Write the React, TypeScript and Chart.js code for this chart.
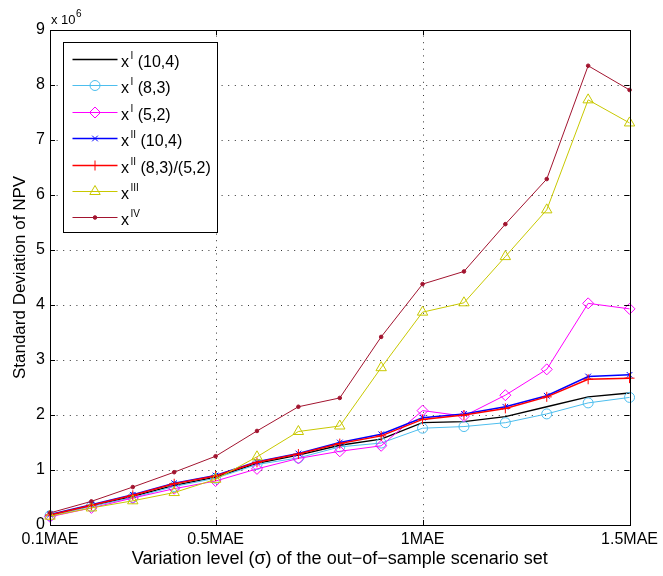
import React, { useEffect, useRef } from 'react';
import { Chart, registerables } from 'chart.js';
import { drawPoint } from 'chart.js/helpers';

Chart.register(...registerables);

// ---------- data (values in units of 10^6) ----------
const xValues = [0.1, 0.2, 0.3, 0.4, 0.5, 0.6, 0.7, 0.8, 0.9, 1.0, 1.1, 1.2, 1.3, 1.4, 1.5];
const xTickValues = [0.1, 0.5, 1.0, 1.5];
const xTickLabels = ['0.1MAE', '0.5MAE', '1MAE', '1.5MAE'];
const yTickValues = [0, 1, 2, 3, 4, 5, 6, 7, 8, 9];

const xI_10_4 = [0.18, 0.35, 0.52, 0.72, 0.87, 1.12, 1.27, 1.45, 1.56, 1.86, 1.88, 1.97, 2.15, 2.33, 2.40];
const xI_8_3 = [0.17, 0.34, 0.50, 0.70, 0.85, 1.10, 1.22, 1.42, 1.49, 1.76, 1.79, 1.86, 2.02, 2.22, 2.32];
const xI_5_2 = [0.15, 0.31, 0.49, 0.66, 0.80, 1.02, 1.21, 1.34, 1.44, 2.08, 1.98, 2.36, 2.83, 4.03, 3.93];
const xII_10_4 = [0.19, 0.37, 0.55, 0.76, 0.90, 1.15, 1.30, 1.50, 1.65, 1.95, 2.02, 2.15, 2.35, 2.70, 2.73];
const xII_8_3_5_2 = [0.18, 0.36, 0.54, 0.75, 0.89, 1.14, 1.29, 1.48, 1.62, 1.92, 2.00, 2.12, 2.33, 2.65, 2.67];
const xIII = [0.16, 0.31, 0.44, 0.59, 0.83, 1.24, 1.70, 1.80, 2.86, 3.87, 4.04, 4.88, 5.73, 7.73, 7.31];
const xIV = [0.22, 0.43, 0.69, 0.96, 1.25, 1.71, 2.15, 2.31, 3.42, 4.38, 4.61, 5.47, 6.29, 8.35, 7.91];

const legendBase = ['x', 'x', 'x', 'x', 'x', 'x', 'x'];
const legendSup = ['I', 'I', 'I', 'II', 'II', 'III', 'IV'];
const legendSuffix = [' (10,4)', ' (8,3)', ' (5,2)', ' (10,4)', ' (8,3)/(5,2)', '', ''];

const yTitle = 'Standard Deviation of NPV';
const xTitle = 'Variation level (\u03c3) of the out\u2212of\u2212sample scenario set';

const FONT = '"Liberation Sans", Arial, Helvetica, sans-serif';

const seriesStyles = [
  { data: xI_10_4, color: '#000000', pointStyle: false as any, radius: 0, width: 1.3, fill: false },
  { data: xI_8_3, color: '#4DBEEE', pointStyle: 'circle', radius: 5, width: 1, fill: false },
  { data: xI_5_2, color: '#FF00FF', pointStyle: 'rectRot', radius: 5.5, width: 1, fill: false },
  { data: xII_10_4, color: '#0000FF', pointStyle: 'crossRot', radius: 4, width: 1.5, fill: false },
  { data: xII_8_3_5_2, color: '#FF0000', pointStyle: 'cross', radius: 5, width: 1.5, fill: false },
  { data: xIII, color: '#C8C800', pointStyle: 'triangle', radius: 6, width: 1, fill: false },
  { data: xIV, color: '#A2142F', pointStyle: 'circle', radius: 1.8, width: 1, fill: true },
];

const gridPlugin = {
  id: 'matlabGrid',
  beforeDatasetsDraw(chart: any) {
    const { ctx, chartArea: a, scales } = chart;
    ctx.save();
    ctx.strokeStyle = '#333';
    ctx.lineWidth = 1;
    ctx.setLineDash([1, 5.6]);
    ctx.beginPath();
    xTickValues.forEach((v) => {
      const px = Math.round(scales.x.getPixelForValue(v)) + 0.5;
      ctx.moveTo(px, a.bottom);
      ctx.lineTo(px, a.top);
    });
    yTickValues.forEach((v) => {
      const py = Math.round(scales.y.getPixelForValue(v)) + 0.5;
      ctx.moveTo(a.left, py);
      ctx.lineTo(a.right, py);
    });
    ctx.stroke();
    ctx.restore();
  },
};

const framePlugin = {
  id: 'matlabFrame',
  afterDatasetsDraw(chart: any) {
    const { ctx, chartArea: a, scales } = chart;
    ctx.save();
    ctx.strokeStyle = '#000';
    ctx.lineWidth = 1;
    ctx.setLineDash([]);
    ctx.strokeRect(Math.round(a.left) + 0.5, Math.round(a.top) + 0.5, Math.round(a.right - a.left), Math.round(a.bottom - a.top));
    const tl = 5;
    ctx.beginPath();
    xTickValues.forEach((v) => {
      const px = Math.round(scales.x.getPixelForValue(v)) + 0.5;
      ctx.moveTo(px, a.bottom);
      ctx.lineTo(px, a.bottom - tl);
      ctx.moveTo(px, a.top);
      ctx.lineTo(px, a.top + tl);
    });
    yTickValues.forEach((v) => {
      const py = Math.round(scales.y.getPixelForValue(v)) + 0.5;
      ctx.moveTo(a.left, py);
      ctx.lineTo(a.left + tl, py);
      ctx.moveTo(a.right, py);
      ctx.lineTo(a.right - tl, py);
    });
    ctx.stroke();
    ctx.restore();
  },
};

const overlayPlugin = {
  id: 'matlabOverlay',
  afterDraw(chart: any) {
    const { ctx, chartArea: a } = chart;
    ctx.save();
    // exponent label
    ctx.fillStyle = '#000';
    ctx.textBaseline = 'alphabetic';
    ctx.textAlign = 'left';
    ctx.font = `13px ${FONT}`;
    const ex = a.left + 1;
    const eb = a.top - 6;
    ctx.fillText('x 10', ex, eb);
    const w10 = ctx.measureText('x 10').width;
    ctx.font = `10px ${FONT}`;
    ctx.fillText('6', ex + w10 + 0.5, eb - 7);

    // legend
    const x0 = Math.round(a.left + 12.5);
    const y0 = Math.round(a.top + 11.5);
    const rowH = 26.4;
    const firstRow = 17;
    const lineA = 9.5, lineB = 54.5, markX = 32, textX = 58;
    const mainFont = `16px ${FONT}`;
    const supFont = `10px ${FONT}`;
    const n = chart.data.datasets.length;
    let maxW = 0;
    for (let i = 0; i < n; i++) {
      ctx.font = mainFont;
      let w = ctx.measureText(legendBase[i]).width + 1.5;
      ctx.font = supFont;
      w += ctx.measureText(legendSup[i]).width;
      ctx.font = mainFont;
      w += ctx.measureText(legendSuffix[i]).width;
      maxW = Math.max(maxW, w);
    }
    const boxW = Math.round(textX + maxW + 6);
    const boxH = Math.round(firstRow + rowH * (n - 1) + 14.7);
    ctx.fillStyle = '#fff';
    ctx.fillRect(x0, y0, boxW, boxH);
    ctx.strokeStyle = '#000';
    ctx.lineWidth = 1;
    ctx.strokeRect(x0 + 0.5, y0 + 0.5, boxW, boxH);

    for (let i = 0; i < n; i++) {
      const ds = chart.data.datasets[i];
      const cy = Math.round(y0 + firstRow + rowH * i) + 0.5;
      ctx.strokeStyle = ds.borderColor;
      ctx.lineWidth = ds.borderWidth;
      ctx.beginPath();
      ctx.moveTo(x0 + lineA, cy);
      ctx.lineTo(x0 + lineB, cy);
      ctx.stroke();
      if (ds.pointStyle) {
        ctx.fillStyle = ds.pointBackgroundColor;
        ctx.strokeStyle = ds.pointBorderColor;
        ctx.lineWidth = ds.pointBorderWidth;
        drawPoint(ctx, { pointStyle: ds.pointStyle, rotation: 0, radius: ds.pointRadius, borderWidth: ds.pointBorderWidth } as any, x0 + markX, cy);
      }
      ctx.fillStyle = '#000';
      ctx.textBaseline = 'alphabetic';
      const base = cy + 7;
      let tx = x0 + textX;
      ctx.font = mainFont;
      ctx.fillText(legendBase[i], tx, base);
      tx += ctx.measureText(legendBase[i]).width + 1.5;
      ctx.font = supFont;
      ctx.fillText(legendSup[i], tx, base - 8);
      tx += ctx.measureText(legendSup[i]).width;
      ctx.font = mainFont;
      ctx.fillText(legendSuffix[i], tx, base);
    }
    ctx.restore();
  },
};

export default function App() {
  const canvasRef = useRef<HTMLCanvasElement | null>(null);

  useEffect(() => {
    const canvas = canvasRef.current;
    if (!canvas) return;
    Chart.defaults.font.family = FONT;
    Chart.defaults.color = '#000';

    const n = seriesStyles.length;
    const datasets = seriesStyles.map((s, i) => ({
      label: `${legendBase[i]}${legendSup[i]}${legendSuffix[i]}`,
      data: xValues.map((x, j) => ({ x, y: s.data[j] })),
      borderColor: s.color,
      borderWidth: s.width,
      backgroundColor: s.color,
      pointStyle: s.pointStyle,
      pointRadius: s.radius,
      pointHoverRadius: s.radius,
      pointBorderColor: s.color,
      pointBackgroundColor: s.fill ? s.color : 'rgba(0,0,0,0)',
      pointBorderWidth: 1,
      tension: 0,
      fill: false,
      clip: false as any,
      order: n - i,
    }));

    const chart = new Chart(canvas, {
      type: 'line',
      data: { datasets },
      options: {
        animation: false,
        responsive: false,
        maintainAspectRatio: false,
        events: [],
        layout: { padding: { left: 0, top: 30, right: 31, bottom: 0 } },
        plugins: {
          legend: { display: false },
          tooltip: { enabled: false },
          title: { display: false },
        },
        scales: {
          x: {
            type: 'linear',
            min: 0.1,
            max: 1.5,
            afterBuildTicks: (scale: any) => {
              scale.ticks = xTickValues.map((v) => ({ value: v }));
            },
            afterFit: (scale: any) => {
              scale.height = 51;
            },
            ticks: {
              autoSkip: false,
              maxRotation: 0,
              minRotation: 0,
              padding: 5,
              color: '#000',
              font: { size: 16, family: FONT },
              callback: (_v: any, idx: number) => xTickLabels[idx],
            },
            grid: { display: false, drawTicks: false },
            border: { display: false },
            title: {
              display: true,
              text: xTitle,
              color: '#000',
              font: { size: 18, family: FONT },
              padding: { top: 0, bottom: 6 },
            },
          },
          y: {
            type: 'linear',
            min: 0,
            max: 9,
            afterBuildTicks: (scale: any) => {
              scale.ticks = yTickValues.map((v) => ({ value: v }));
            },
            afterFit: (scale: any) => {
              scale.width = 50;
            },
            ticks: {
              padding: 5,
              color: '#000',
              font: { size: 16, family: FONT },
              callback: (v: any) => String(v),
            },
            grid: { display: false, drawTicks: false },
            border: { display: false },
            title: {
              display: true,
              text: yTitle,
              color: '#000',
              font: { size: 17, family: FONT },
              padding: { top: 10, bottom: 0 },
            },
          },
        },
      },
      plugins: [gridPlugin, framePlugin, overlayPlugin],
    });

    return () => {
      chart.destroy();
    };
  }, []);

  return (
    <div style={{ position: 'absolute', left: 0, top: 0, width: 663, height: 576, background: '#fff' }}>
      <canvas ref={canvasRef} width={663} height={576} />
    </div>
  );
}
